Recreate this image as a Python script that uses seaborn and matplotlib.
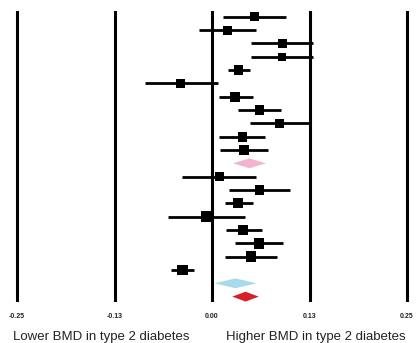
import numpy as np
import pandas as pd
import matplotlib
matplotlib.use("Agg")
import matplotlib.pyplot as plt
import seaborn as sns

# Study-level estimates (rows top to bottom), then summaries
est = [0.055, 0.020, 0.090, 0.090, 0.034, -0.040, 0.030, 0.061, 0.086, 0.039, 0.041,
       0.010, 0.061, 0.033, -0.007, 0.040, 0.060, 0.050, -0.038]
lo = [0.014, -0.017, 0.050, 0.050, 0.021, -0.086, 0.009, 0.033, 0.049, 0.009, 0.010,
      -0.038, 0.022, 0.017, -0.057, 0.018, 0.030, 0.017, -0.053]
hi = [0.095, 0.057, 0.130, 0.130, 0.049, 0.008, 0.053, 0.088, 0.125, 0.068, 0.072,
      0.057, 0.100, 0.052, 0.042, 0.064, 0.091, 0.083, -0.023]
rows = [0, 1, 2, 3, 4, 5, 6, 7, 8, 9, 10, 12, 13, 14, 15, 16, 17, 18, 19]
weights = [8, 8, 8, 7, 9, 8, 9, 9, 8, 9, 9, 8, 9, 9, 11, 9, 10, 10, 10]

sum_est = [0.048, 0.030, 0.043]
sum_lo = [0.027, 0.003, 0.026]
sum_hi = [0.069, 0.057, 0.060]
sum_rows = [11, 20, 21]
sum_colors = ["#F2B3CC", "#A8DAEA", "#D42029"]

ref_lines = [-0.25, -0.125, 0.0, 0.125, 0.25]
tick_labels = ["-0.25", "-0.13", "0.00", "0.13", "0.25"]

df = pd.DataFrame({"est": est, "lo": lo, "hi": hi, "row": rows, "w": weights})

sns.set_theme(style="white")
plt.rcParams["font.family"] = ["Liberation Sans", "DejaVu Sans"]

W, H = 416, 343
fig = plt.figure(figsize=(W / 100, H / 100), dpi=100)
top_px, bot_px = 11, 302
ax = fig.add_axes([0, 1 - bot_px / H, 1, (bot_px - top_px) / H])

for x in ref_lines:
    ax.axvline(x, color="black", lw=2.2, zorder=1)

ax.hlines(df["row"], df["lo"], df["hi"], color="black", lw=2.0, zorder=2)
sns.scatterplot(data=df, x="est", y="row", size="w", sizes=(34, 66), marker="s",
                color="black", edgecolor="black", linewidth=0, legend=False, ax=ax, zorder=3)

hh = 0.37
for e, l, h, r, c in zip(sum_est, sum_lo, sum_hi, sum_rows, sum_colors):
    ax.fill([l, e, h, e], [r, r - hh, r, r + hh], color=c, lw=0, zorder=3)

x0 = -212 / 780
x1 = (416 - 212) / 780
ax.set_xlim(x0, x1)
ax.set_ylim((bot_px - 16.7) / 13.33, -(16.7 - top_px) / 13.33)
ax.set_xticks(ref_lines)
ax.set_xticklabels(tick_labels, fontsize=5, fontweight="bold", color="#222222")
ax.tick_params(axis="x", length=0, pad=8)
ax.set_yticks([])
ax.set_xlabel("")
ax.set_ylabel("")
for s in ax.spines.values():
    s.set_visible(False)

fig.text(101 / W, 1 - 337 / H, "Lower BMD in type 2 diabetes", ha="center", va="center",
         fontsize=9.5, color="#222222")
fig.text(316 / W, 1 - 337 / H, "Higher BMD in type 2 diabetes", ha="center", va="center",
         fontsize=9.5, color="#222222")

fig.savefig("out.png", dpi=100, facecolor="white")
